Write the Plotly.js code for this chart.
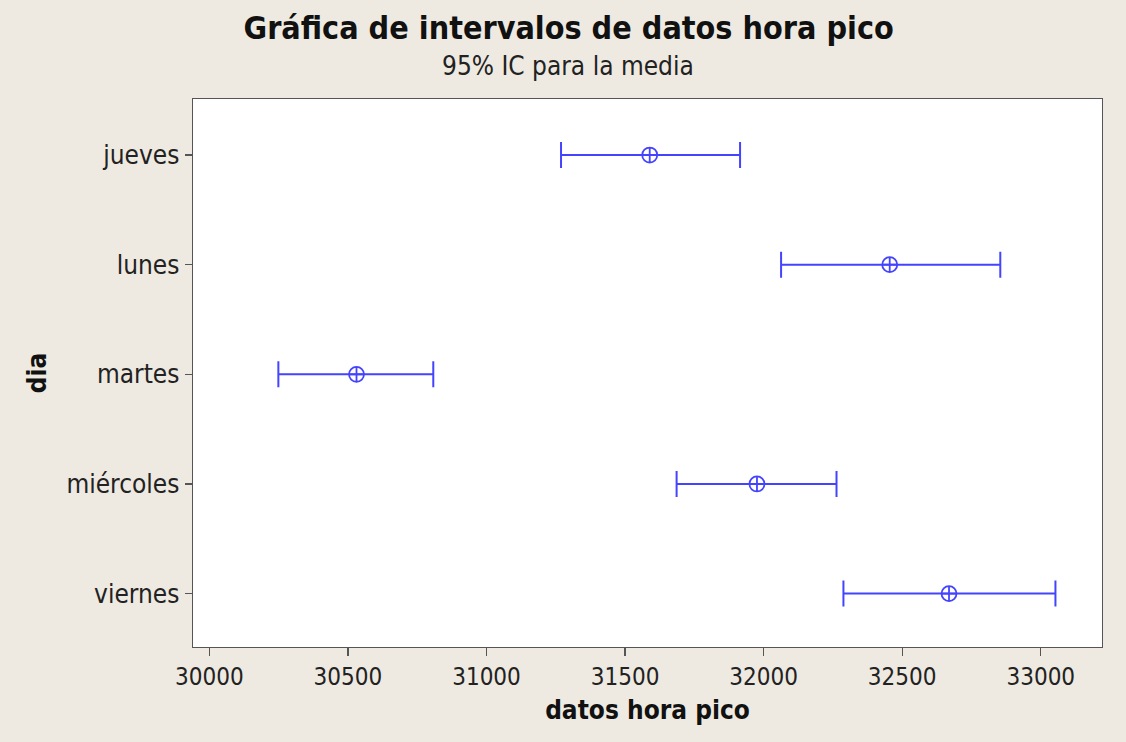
<!DOCTYPE html>
<html>
<head>
<meta charset="utf-8">
<script src="https://cdn.plot.ly/plotly-3.0.1.min.js"></script>
<style>
  html, body { margin: 0; padding: 0; background: #EEEAE1; }
  #chart { width: 1126px; height: 742px; }
</style>
</head>
<body>
<div id="chart"></div>
<script>
// Days (category labels, top to bottom)
const dias = ["jueves", "lunes", "martes", "miércoles", "viernes"];
// 95% CI for the mean
const medias = [31589, 32455, 30531, 31976, 32669];
const limInf = [31269, 32063, 30249, 31686, 32288];
const limSup = [31915, 32854, 30808, 32263, 33053];
// X tick values/labels
const xTicks = [30000, 30500, 31000, 31500, 32000, 32500, 33000];

const FONT = "Tahoma, 'DejaVu Sans Condensed', 'DejaVu Sans', sans-serif";
const BLUE = "#4444ff";

const errPlus = limSup.map((u, i) => u - medias[i]);
const errMinus = medias.map((m, i) => m - limInf[i]);

const trace = {
  type: "scatter",
  mode: "markers",
  x: medias,
  y: dias,
  marker: {
    symbol: "circle-cross-open",
    size: 15,
    color: BLUE,
    line: { color: BLUE, width: 1.8 }
  },
  error_x: {
    type: "data",
    symmetric: false,
    array: errPlus,
    arrayminus: errMinus,
    color: BLUE,
    thickness: 2,
    width: 13
  },
  hoverinfo: "x+y",
  showlegend: false
};

const layout = {
  width: 1126,
  height: 742,
  paper_bgcolor: "#EEEAE1",
  plot_bgcolor: "#FFFFFF",
  margin: { l: 193, r: 24, t: 99, b: 95, pad: 0 },
  font: { family: FONT, color: "#222222", size: 24 },
  title: {
    text: "<b>Gráfica de intervalos de datos hora pico</b>",
    font: { family: FONT, size: 32, color: "#111111" },
    xref: "container",
    x: 0.505,
    xanchor: "center",
    yref: "container",
    y: 1 - 28 / 742,
    yanchor: "middle"
  },
  annotations: [
    {
      text: "95% IC para la media",
      xref: "paper",
      yref: "paper",
      x: (568 - 193) / 909,
      y: 1 + (99 - 66) / 548,
      xanchor: "center",
      yanchor: "middle",
      showarrow: false,
      font: { family: FONT, size: 26, color: "#222222" }
    }
  ],
  xaxis: {
    range: [29941, 33221],
    tickmode: "array",
    tickvals: xTicks,
    ticktext: xTicks.map(String),
    ticks: "outside",
    ticklen: 8,
    tickwidth: 1.3,
    tickcolor: "#555555",
    tickfont: { family: FONT, size: 24, color: "#222222" },
    showgrid: false,
    zeroline: false,
    showline: true,
    mirror: true,
    linecolor: "#555555",
    linewidth: 1.4,
    title: {
      text: "<b>datos hora pico</b>",
      font: { family: FONT, size: 26, color: "#111111" },
      standoff: 10
    }
  },
  yaxis: {
    type: "category",
    categoryorder: "array",
    categoryarray: dias,
    range: [4.487, -0.511],
    ticks: "outside",
    ticklen: 7,
    tickwidth: 1.3,
    tickcolor: "#555555",
    tickfont: { family: FONT, size: 26, color: "#222222" },
    showgrid: false,
    zeroline: false,
    showline: true,
    mirror: true,
    linecolor: "#555555",
    linewidth: 1.4,
    title: {
      text: "<b>dia</b>",
      font: { family: FONT, size: 26, color: "#111111" },
      standoff: 12
    }
  }
};

Plotly.newPlot("chart", [trace], layout, { staticPlot: true, displayModeBar: false });
</script>
</body>
</html>
